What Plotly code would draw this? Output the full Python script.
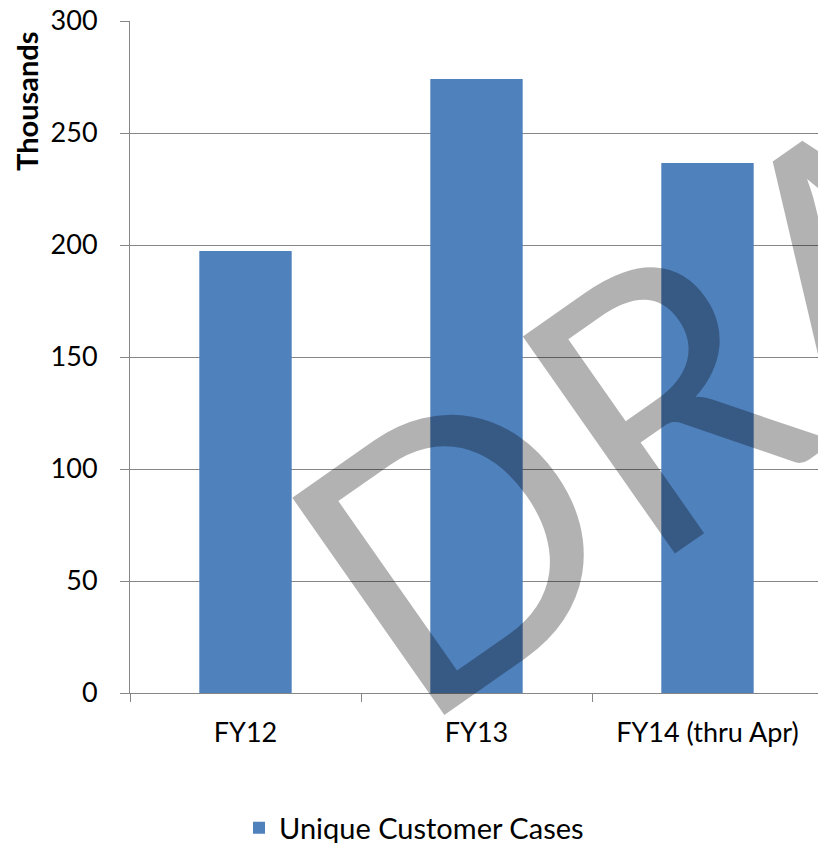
import plotly.graph_objects as go

categories = ["FY12", "FY13", "FY14 (thru Apr)"]
values = [197.3, 274.1, 236.6]
series_name = "Unique Customer Cases"
y_ticks = [0, 50, 100, 150, 200, 250, 300]

# page has an 8px body margin; figure is placed at (8, 8)
OFF = 8
W, H = 826 - OFF, 843 - OFF
L, R, T, B = 130 - OFF, 3, 21 - OFF, 150
PW, PH = W - L - R, H - T - B


def px(xp):
    return (xp - OFF - L) / PW


def py(yp):
    return (H - B - (yp - OFF)) / PH


fig = go.Figure()
fig.add_trace(go.Bar(
    x=categories, y=values, name=series_name,
    marker=dict(color="#4F81BD", line=dict(width=0)),
    showlegend=True,
))

font_family = "Lato, 'Open Sans', sans-serif"
fig.update_layout(
    width=W, height=H,
    margin=dict(l=L, r=R, t=T, b=B, pad=0, autoexpand=False),
    paper_bgcolor="white", plot_bgcolor="white",
    bargap=0.6,
    font=dict(family=font_family, size=27, color="black"),
    showlegend=True,
    legend=dict(orientation="h", xref="container", x=(414 - OFF) / W, xanchor="center",
                y=py(828), yanchor="middle",
                font=dict(size=29, family=font_family), bgcolor="rgba(0,0,0,0)"),
    xaxis=dict(
        type="category", showline=True, linecolor="#868686", linewidth=1,
        ticks="outside", tickson="boundaries", ticklen=8, tickcolor="#868686",
        showgrid=False, tickfont=dict(size=27), ticklabelstandoff=16,
        range=[-0.5, 2.5], automargin=False, ticklabeloverflow="allow",
    ),
    yaxis=dict(
        range=[0, 300], tickvals=y_ticks, showline=True, linecolor="#868686", linewidth=1,
        ticks="outside", ticklen=9, tickcolor="#868686",
        showgrid=True, gridcolor="#868686", gridwidth=1, zeroline=False,
        tickfont=dict(size=27), ticklabelstandoff=17, automargin=False,
        ticklabeloverflow="allow",
    ),
)

fig.add_annotation(
    text="<b>Thousands</b>", xref="paper", yref="paper",
    x=px(26), y=py(101),
    textangle=-90, showarrow=False, font=dict(size=29, family=font_family, color="black"),
    xanchor="center", yanchor="middle",
)

fig.add_annotation(
    text="DRAFT", xref="paper", yref="paper",
    x=px(822), y=py(276),
    textangle=-35, showarrow=False,
    font=dict(size=370, family=font_family, color="rgba(0,0,0,0.3)"),
    xanchor="center", yanchor="middle",
)

fig.write_html("out.html")
